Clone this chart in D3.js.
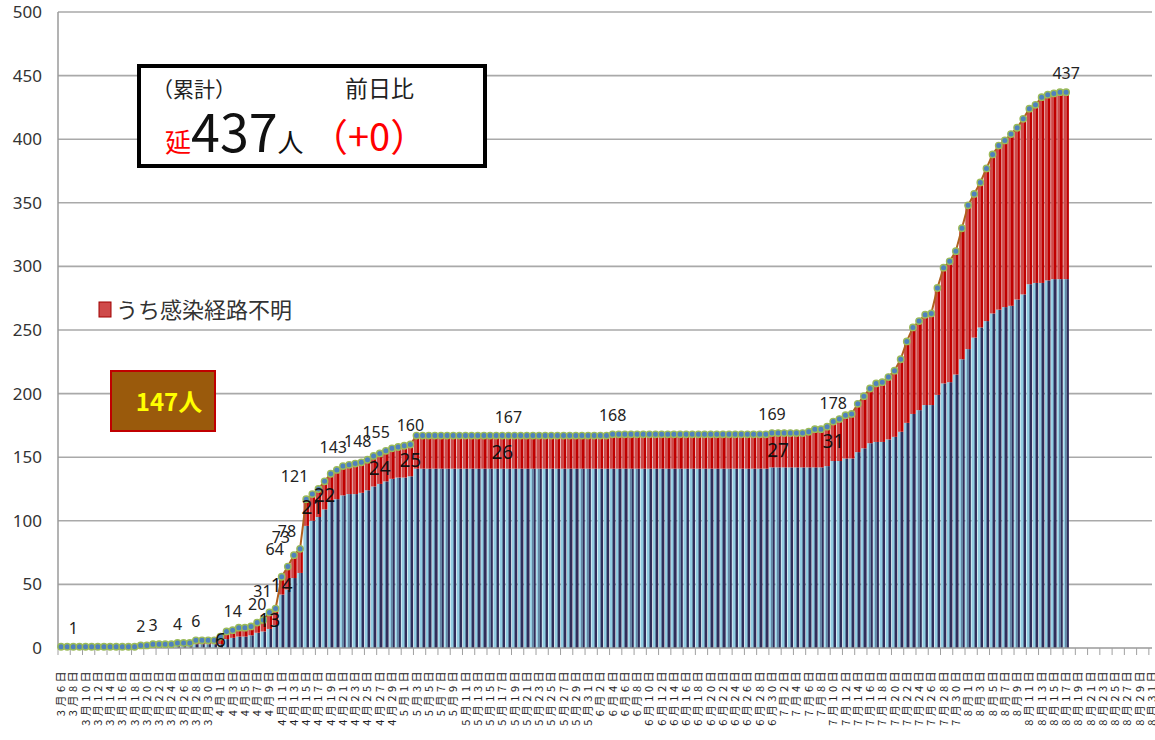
<!DOCTYPE html>
<html>
<head>
<meta charset="utf-8">
<script src="https://cdnjs.cloudflare.com/ajax/libs/d3/7.8.5/d3.min.js"></script>
<style>
  body { margin: 0; background: #fff; }
  svg { display: block; font-family: "Noto Sans", "Noto Sans CJK JP", sans-serif; }
</style>
</head>
<body>
<script>
// 期間（3/6〜8/31）
var startDate = new Date(2020, 2, 6);
var endDate = new Date(2020, 7, 31);

// 累計（陽性者数）
var total = [
  1, 1, 1, 1, 1, 1, 1, 1, 1, 1, 1, 1, 1, 2, 2, 3, 3, 3, 3, 4, 4, 4, 6, 6, 6, 6,
  9, 13, 14, 16, 16, 17, 20, 22, 28, 31, 56, 64, 73, 78, 117, 121, 125, 131, 137, 140,
  143, 144, 145, 146, 148, 151, 153, 155, 157, 158, 159, 160,
  167, 167, 167, 167, 167, 167, 167, 167, 167, 167, 167, 167, 167, 167, 167, 167,
  167, 167, 167, 167, 167, 167, 167, 167, 167, 167, 167, 167, 167, 167, 167, 167,
  168, 168, 168, 168, 168, 168, 168, 168, 168, 168, 168, 168, 168, 168, 168, 168,
  168, 168, 168, 168, 168, 168, 168, 168, 168, 168,
  169, 169, 169, 169, 169, 169,
  170, 172, 172, 174, 178, 180, 183, 184, 192, 198, 204, 208, 209, 213, 218, 227,
  241, 252, 257, 262, 263, 283, 299, 304, 312, 330, 348, 357, 366, 377, 388, 395,
  399, 404, 409, 416, 424, 427, 433, 435, 436, 437, 437
];

// うち感染経路不明（累計）
var unknown = [
  0, 0, 0, 0, 0, 0, 0, 0, 0, 0, 0, 0, 0, 0, 0, 0, 0, 0, 0, 0, 0, 0, 3, 3, 3, 3,
  6, 6, 6, 7, 7, 7, 8, 9, 13, 13, 14, 18, 18, 19, 21, 21, 22, 22, 22, 23,
  23, 23, 24, 24, 24, 24, 24, 24, 24, 24, 25, 25,
  26, 26, 26, 26, 26, 26, 26, 26, 26, 26, 26, 26, 26, 26, 26, 26,
  26, 26, 26, 26, 26, 26, 26, 26, 26, 26, 26, 26, 26, 26, 26, 26,
  27, 27, 27, 27, 27, 27, 27, 27, 27, 27, 27, 27, 27, 27, 27, 27,
  27, 27, 27, 27, 27, 27, 27, 27, 27, 27,
  27, 27, 27, 27, 27, 27,
  28, 30, 30, 31, 31, 33, 34, 35, 38, 41, 43, 46, 47, 49, 52, 57,
  64, 68, 70, 71, 72, 84, 91, 95, 97, 103, 113, 113, 114, 120, 125, 129,
  131, 135, 135, 138, 138, 140, 146, 146, 146, 147, 147
];

// データラベル（日付）
var totalLabelsAbove = ["3/8", "3/19", "3/21", "3/25", "3/28", "4/3", "4/7", "5/2", "5/18", "6/4", "6/30", "7/10", "8/17"];
var totalLabelsAboveLeft = ["4/21", "4/25", "4/28"];
var totalLabelsLeft = ["4/10", "4/12", "4/13", "4/14", "4/16"];
var unknownLabels = ["4/1", "4/9", "4/11", "4/16", "4/18", "4/27", "5/2", "5/17", "7/1", "7/10"];

var yTicks = [0, 50, 100, 150, 200, 250, 300, 350, 400, 450, 500];

var W = 1155, H = 740;
var svg = d3.select("body").append("svg").attr("width", W).attr("height", H);

// カテゴリ（日付）
var days = d3.timeDay.range(startDate, d3.timeDay.offset(endDate, 1));
var keys = days.map(function(d) { return (d.getMonth() + 1) + "/" + d.getDate(); });

var x = d3.scaleBand().domain(keys).range([58, 1155]).paddingInner(0.1).paddingOuter(0.05);
var y = d3.scaleLinear().domain([0, 500]).range([648, 12]);

var data = total.map(function(t, i) {
  return { key: keys[i], total: t, unknown: unknown[i], known: t - unknown[i] };
});
var byKey = {};
data.forEach(function(d) { byKey[d.key] = d; });

// グラデーション（棒の縞模様）
var defs = svg.append("defs");
var gBlue = defs.append("linearGradient").attr("id", "gBlue");
[["0%", "#92cde2"], ["38%", "#92cde2"], ["38%", "#6687a6"], ["60%", "#6687a6"], ["60%", "#302d5a"], ["100%", "#302d5a"]]
  .forEach(function(s) { gBlue.append("stop").attr("offset", s[0]).attr("stop-color", s[1]); });
var gRed = defs.append("linearGradient").attr("id", "gRed");
[["0%", "#cf4a4a"], ["58%", "#cf4a4a"], ["58%", "#c00000"], ["100%", "#c00000"]]
  .forEach(function(s) { gRed.append("stop").attr("offset", s[0]).attr("stop-color", s[1]); });

// グリッド
svg.append("g").selectAll("line").data(yTicks.slice(1)).enter().append("line")
  .attr("x1", 58).attr("x2", 1152)
  .attr("y1", function(d) { return y(d); }).attr("y2", function(d) { return y(d); })
  .attr("stroke", "#a9a9a9").attr("stroke-width", 1.6);

// Y軸ラベル
svg.append("g").selectAll("text").data(yTicks).enter().append("text")
  .attr("x", 42).attr("y", function(d) { return y(d); })
  .attr("dy", "0.35em").attr("text-anchor", "end")
  .attr("font-size", 17).attr("fill", "#333")
  .text(function(d) { return d; });

// 棒（経路判明＝青、不明＝赤）
svg.append("g").selectAll("rect").data(data).enter().append("rect")
  .attr("x", function(d) { return x(d.key); })
  .attr("width", x.bandwidth())
  .attr("y", function(d) { return y(d.known); })
  .attr("height", function(d) { return y(0) - y(d.known); })
  .attr("fill", "url(#gBlue)");
svg.append("g").selectAll("rect").data(data.filter(function(d) { return d.unknown > 0; })).enter().append("rect")
  .attr("x", function(d) { return x(d.key); })
  .attr("width", x.bandwidth())
  .attr("y", function(d) { return y(d.total); })
  .attr("height", function(d) { return y(d.known) - y(d.total); })
  .attr("fill", "url(#gRed)");

// 軸線
svg.append("line").attr("x1", 58).attr("x2", 58).attr("y1", 12).attr("y2", 648)
  .attr("stroke", "#9a9a9a").attr("stroke-width", 1.5);
svg.append("line").attr("x1", 58).attr("x2", 1152).attr("y1", 648).attr("y2", 648)
  .attr("stroke", "#9a9a9a").attr("stroke-width", 1.5);

// X軸目盛り（2日ごと）
var step = x.step();
svg.append("g").selectAll("line").data(keys.filter(function(k, i) { return i % 2 === 0; })).enter().append("line")
  .attr("x1", function(k) { return x(k) - step * 0.05; })
  .attr("x2", function(k) { return x(k) - step * 0.05; })
  .attr("y1", 648).attr("y2", 655)
  .attr("stroke", "#a0a0a0").attr("stroke-width", 1);

// X軸ラベル（回転）
svg.append("g").selectAll("text").data(days.filter(function(d, i) { return i % 2 === 0; })).enter().append("text")
  .attr("transform", function(d) {
    var k = (d.getMonth() + 1) + "/" + d.getDate();
    return "translate(" + (x(k) + x.bandwidth() / 2 + 4) + ",668) rotate(-90)";
  })
  .attr("text-anchor", "end")
  .attr("font-family", "Noto Sans CJK JP")
  .attr("font-size", 11).attr("letter-spacing", 3.5)
  .attr("fill", "#222")
  .text(function(d) { return (d.getMonth() + 1) + "月" + d.getDate() + "日"; });

// 折れ線（累計）
var cx = function(d) { return x(d.key) + x.bandwidth() / 2; };
svg.append("path").datum(data)
  .attr("fill", "none").attr("stroke", "#b0601f").attr("stroke-width", 2)
  .attr("d", d3.line().x(cx).y(function(d) { return y(d.total); }));
svg.append("g").selectAll("circle").data(data).enter().append("circle")
  .attr("cx", cx).attr("cy", function(d) { return y(d.total); })
  .attr("r", 3.2).attr("fill", "#4f81bd").attr("stroke", "#9bbb59").attr("stroke-width", 1.4);

// ラベル
svg.append("g").selectAll("text").data(totalLabelsAbove.map(function(k) { return byKey[k]; })).enter().append("text")
  .attr("x", cx).attr("y", function(d) { return y(d.total) - 13; })
  .attr("text-anchor", "middle").attr("font-size", 16).attr("fill", "#222")
  .text(function(d) { return d.total; });
svg.append("g").selectAll("text").data(totalLabelsAboveLeft.map(function(k) { return byKey[k]; })).enter().append("text")
  .attr("x", function(d) { return cx(d) + 4; }).attr("y", function(d) { return y(d.total) - 13; })
  .attr("text-anchor", "end").attr("font-size", 16).attr("fill", "#222")
  .text(function(d) { return d.total; });
svg.append("g").selectAll("text").data(totalLabelsLeft.map(function(k) { return byKey[k]; })).enter().append("text")
  .attr("x", function(d) { return cx(d) - 4; }).attr("y", function(d) { return y(d.total) - 12; })
  .attr("text-anchor", "end").attr("font-size", 16).attr("fill", "#222")
  .text(function(d) { return d.total; });
svg.append("g").selectAll("text").data(unknownLabels.map(function(k) { return byKey[k]; })).enter().append("text")
  .attr("x", cx).attr("y", function(d) { return (y(d.total) + y(d.known)) / 2; })
  .attr("dy", "0.35em")
  .attr("text-anchor", "middle").attr("font-size", 19).attr("fill", "#111")
  .text(function(d) { return d.unknown; });

// 凡例
svg.append("rect").attr("x", 99).attr("y", 302).attr("width", 12).attr("height", 15)
  .attr("fill", "#cf4a4a").attr("stroke", "#a00000").attr("stroke-width", 1);
svg.append("text").attr("x", 116).attr("y", 318)
  .attr("font-family", "Noto Sans CJK JP").attr("font-size", 22).attr("fill", "#333")
  .text("うち感染経路不明");

// 不明者数ボックス
var last = data[data.length - 1];
svg.append("rect").attr("x", 111).attr("y", 371).attr("width", 104).attr("height", 60)
  .attr("fill", "#9a5a0c").attr("stroke", "#c00000").attr("stroke-width", 2);
svg.append("text").attr("x", 169).attr("y", 411).attr("text-anchor", "middle")
  .attr("font-family", "Noto Sans CJK JP").attr("font-weight", "bold")
  .attr("font-size", 24).attr("fill", "#ffff00")
  .text(last.unknown + "人");

// 累計ボックス
var prev = data[data.length - 2];
svg.append("rect").attr("x", 139).attr("y", 66).attr("width", 346).attr("height", 100)
  .attr("fill", "#fff").attr("stroke", "#000").attr("stroke-width", 4);
svg.append("text").attr("x", 152).attr("y", 97)
  .attr("font-family", "Noto Sans CJK JP").attr("font-size", 21).attr("fill", "#222")
  .text("（累計）");
svg.append("text").attr("x", 345).attr("y", 97)
  .attr("font-family", "Noto Sans CJK JP").attr("font-size", 23).attr("fill", "#222")
  .text("前日比");
var line2 = svg.append("text").attr("x", 165).attr("y", 152)
  .attr("font-family", "Noto Sans CJK JP");
line2.append("tspan").attr("font-size", 26).attr("fill", "#ff0000").text("延");
line2.append("tspan").attr("font-size", 52).attr("fill", "#111").text(last.total);
line2.append("tspan").attr("font-size", 26).attr("fill", "#111").text("人");
svg.append("text").attr("x", 310).attr("y", 151)
  .attr("font-family", "Noto Sans CJK JP").attr("font-size", 38).attr("fill", "#ff0000")
  .text("（+" + (last.total - prev.total) + "）");
</script>
</body>
</html>
